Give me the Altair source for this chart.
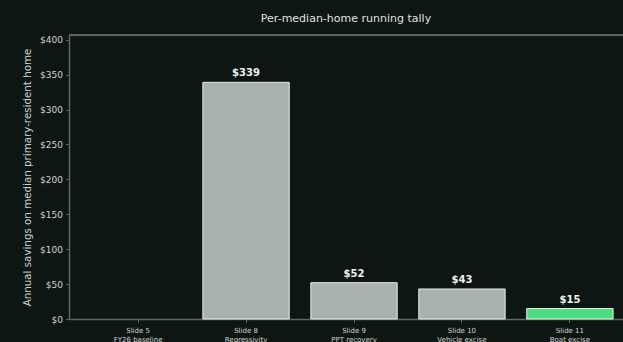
import altair as alt
import pandas as pd

slides = ["Slide 5", "Slide 8", "Slide 9", "Slide 10", "Slide 11"]
subtitles = ["FY26 baseline", "Regressivity", "PPT recovery", "Vehicle excise", "Boat excise"]
savings = [0, 339, 52, 43, 15]
labels = ["", "$339", "$52", "$43", "$15"]
highlight = [False, False, False, False, True]

df = pd.DataFrame({
    "cat": [f"{s}|{t}" for s, t in zip(slides, subtitles)],
    "value": savings,
    "label": labels,
    "hl": highlight,
})

BG = "#0e1613"
TXT = "#cfd5d2"
SPINE = "#5c6662"
FONT = "DejaVu Sans"
order = list(df["cat"])
YMAX = 406.8

x = alt.X("cat:N", sort=order,
          scale=alt.Scale(paddingInner=0.2, paddingOuter=0.24, range=[0, 570]),
          axis=alt.Axis(title=None, labelExpr="split(datum.label, '|')", labelAngle=0,
                        labelFontSize=7, labelColor=TXT, labelFont=FONT, labelLineHeight=9,
                        tickColor=SPINE, tickSize=3.5, domainColor=SPINE, domainWidth=1.5,
                        labelPadding=4))
y = alt.Y("value:Q", scale=alt.Scale(domain=[0, YMAX], nice=False),
          axis=alt.Axis(title="Annual savings on median primary-resident home",
                        values=list(range(0, 401, 50)), labelExpr="'$' + datum.value",
                        labelOverlap=False,
                        grid=False, labelFontSize=9, labelColor=TXT, labelFont=FONT,
                        titleFontSize=10.3, titleFontWeight="normal", titleColor=TXT,
                        titleFont=FONT, titlePadding=7, tickColor=SPINE, tickSize=3.5,
                        domainColor=SPINE, domainWidth=1.5, labelPadding=3))

bars = alt.Chart(df).mark_bar(strokeWidth=1).encode(
    x=x, y=y,
    color=alt.Color("hl:N", scale=alt.Scale(domain=[False, True], range=["#a9b1ad", "#4ade80"]),
                    legend=None),
    stroke=alt.condition(alt.datum.value > 0, alt.value("#e8ece9"), alt.value("transparent")),
)
text = alt.Chart(df).mark_text(dy=-6, fontSize=10, fontWeight="bold", color="#eef1ef",
                               font=FONT, baseline="alphabetic").encode(
    x=alt.X("cat:N", sort=order), y=y, text="label:N")

top = alt.Chart(df).mark_rule(color=SPINE, strokeWidth=1.5).encode(
    y=alt.value(0), x=alt.value(0), x2=alt.value(554))

chart = (bars + text + top).properties(
    width=554, height=284,
    title=alt.TitleParams("Per-median-home running tally", fontSize=11, font=FONT,
                          fontWeight="normal", color="#dfe4e1", offset=10),
    background=BG,
    padding={"left": 69, "top": 35, "right": 0, "bottom": 23},
    autosize=alt.AutoSizeParams(type="none"),
).configure_view(stroke=None)

chart.save("out.html", embed_options={"renderer": "svg", "actions": False})
